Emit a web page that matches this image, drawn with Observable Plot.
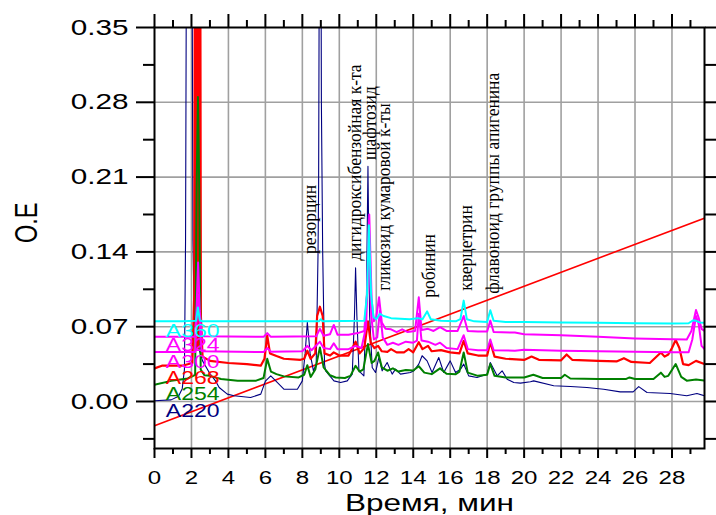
<!DOCTYPE html>
<html><head><meta charset="utf-8">
<script src="https://cdn.jsdelivr.net/npm/d3@7"></script>
<script src="https://cdn.jsdelivr.net/npm/@observablehq/plot@0.6"></script>
<style>body{margin:0;background:#fff}</style>
</head><body><div id="chart"></div>
<script>
// Chromatogram traces: [time (min), absorbance (O.E)]
const a360 = [[0,0.075],[1.5,0.075],[2.25,0.0755],[2.35,0.088],[2.45,0.076],[2.6,0.075],[6.0,0.075],[8.9,0.075],[9.0,0.077],[9.1,0.075],[11.35,0.0755],[11.5,0.1],[11.6,0.165],[11.72,0.1],[11.85,0.079],[12.0,0.077],[12.2,0.082],[12.4,0.08],[12.8,0.078],[13.3,0.0775],[13.8,0.077],[14.25,0.078],[14.5,0.077],[14.75,0.0843],[14.95,0.077],[15.5,0.0755],[16.3,0.075],[16.55,0.077],[16.73,0.0944],[16.9,0.077],[17.3,0.075],[18.0,0.0745],[18.17,0.0853],[18.35,0.0755],[19.0,0.0745],[20,0.0745],[22,0.074],[24,0.0737],[26,0.0733],[28,0.073],[28.9,0.0732],[29.15,0.076],[29.3,0.0755],[29.5,0.074],[29.76,0.0737]];
const a324 = [[0,0.0605],[2.2,0.0605],[2.28,0.09],[2.36,0.13],[2.45,0.085],[2.55,0.061],[5.9,0.0605],[6.1,0.064],[6.3,0.0605],[8.75,0.061],[8.95,0.068],[9.15,0.0615],[9.5,0.063],[9.7,0.0716],[9.9,0.0625],[10.5,0.0625],[11.0,0.064],[11.35,0.066],[11.5,0.1],[11.62,0.175],[11.75,0.095],[11.87,0.075],[12.0,0.079],[12.15,0.0975],[12.3,0.074],[12.5,0.068],[12.8,0.0675],[13.1,0.065],[13.4,0.0675],[13.7,0.065],[14.1,0.066],[14.3,0.0975],[14.45,0.067],[14.8,0.068],[15.1,0.066],[15.45,0.0695],[15.8,0.066],[16.4,0.066],[16.73,0.08],[16.95,0.066],[17.5,0.0655],[18.0,0.0655],[18.17,0.0757],[18.35,0.065],[19.5,0.0645],[20,0.063],[22,0.062],[24,0.0605],[26,0.059],[28,0.0582],[28.8,0.058],[29.05,0.066],[29.3,0.0856],[29.45,0.078],[29.6,0.068],[29.76,0.066]];
const a300 = [[0,0.0462],[2.2,0.0462],[2.28,0.075],[2.36,0.1],[2.45,0.07],[2.55,0.047],[5.9,0.0462],[6.1,0.05],[6.3,0.0465],[8.0,0.047],[8.27,0.052],[8.5,0.048],[8.95,0.056],[9.15,0.05],[9.5,0.049],[9.7,0.0545],[9.9,0.049],[10.5,0.049],[10.88,0.052],[11.2,0.05],[11.45,0.07],[11.6,0.15],[11.73,0.08],[11.87,0.058],[12.05,0.06],[12.2,0.085],[12.35,0.06],[12.6,0.053],[12.9,0.055],[13.2,0.053],[13.6,0.056],[14.0,0.055],[14.2,0.057],[14.3,0.082],[14.45,0.057],[14.8,0.056],[15.2,0.053],[15.45,0.055],[15.8,0.05],[16.4,0.049],[16.73,0.062],[16.95,0.049],[17.5,0.048],[18.0,0.048],[18.17,0.058],[18.35,0.048],[19.5,0.0475],[20,0.0485],[22,0.0475],[24,0.047],[26,0.0465],[28,0.046],[28.9,0.046],[29.1,0.058],[29.3,0.08],[29.45,0.072],[29.6,0.052],[29.76,0.049]];
const a268 = [[0,0.031],[0.4,0.0335],[1.5,0.0335],[2.05,0.036],[2.15,0.1],[2.19,0.5],[2.24,0.5],[2.27,0.05],[2.3,0.5],[2.36,0.5],[2.39,0.05],[2.42,0.5],[2.47,0.5],[2.51,0.08],[2.6,0.042],[3.0,0.038],[4.0,0.036],[5.0,0.035],[5.75,0.0335],[5.95,0.04],[6.1,0.0616],[6.25,0.045],[6.6,0.0425],[7.0,0.04],[7.9,0.039],[8.1,0.04],[8.27,0.0475],[8.45,0.04],[8.7,0.045],[8.8,0.08],[8.95,0.0887],[9.1,0.08],[9.2,0.045],[9.5,0.043],[9.7,0.046],[10.0,0.043],[10.5,0.043],[10.88,0.056],[11.1,0.045],[11.35,0.05],[11.55,0.075],[11.7,0.055],[11.9,0.05],[12.1,0.052],[12.3,0.047],[12.6,0.0465],[12.8,0.049],[13.1,0.046],[13.5,0.046],[13.75,0.049],[14.0,0.046],[14.3,0.0555],[14.5,0.049],[14.8,0.052],[15.0,0.047],[15.5,0.048],[16.0,0.046],[16.5,0.045],[16.73,0.0568],[16.95,0.045],[17.5,0.043],[18.0,0.043],[18.17,0.0555],[18.4,0.042],[19.0,0.04],[20.0,0.0389],[20.4,0.042],[20.8,0.039],[22.0,0.0385],[22.3,0.044],[22.6,0.039],[24.0,0.038],[25.0,0.0375],[25.4,0.0405],[25.8,0.037],[26.8,0.036],[27.4,0.0459],[27.6,0.042],[27.8,0.044],[28.0,0.05],[28.2,0.0575],[28.4,0.05],[28.6,0.035],[28.9,0.034],[29.3,0.038],[29.76,0.035]];
const a254 = [[0,0.0156],[0.9,0.0193],[1.8,0.0215],[2.2,0.025],[2.28,0.2],[2.35,0.285],[2.42,0.2],[2.5,0.03],[2.7,0.0245],[3.0,0.024],[3.6,0.021],[4.5,0.0195],[5.5,0.0195],[5.9,0.022],[6.1,0.0399],[6.3,0.028],[6.6,0.0256],[7.0,0.0235],[7.8,0.0225],[8.1,0.025],[8.27,0.034],[8.45,0.023],[8.7,0.03],[8.95,0.0506],[9.15,0.032],[9.5,0.0245],[9.8,0.0225],[10.3,0.022],[10.6,0.024],[10.88,0.0334],[11.1,0.028],[11.3,0.03],[11.55,0.0537],[11.75,0.036],[11.9,0.038],[12.1,0.0459],[12.3,0.032],[12.6,0.0288],[12.9,0.031],[13.2,0.028],[13.6,0.0295],[14.0,0.029],[14.3,0.033],[14.6,0.027],[15.0,0.0256],[15.45,0.031],[15.8,0.026],[16.3,0.0256],[16.5,0.028],[16.73,0.0459],[16.95,0.027],[17.5,0.024],[18.0,0.025],[18.17,0.0351],[18.4,0.024],[19.0,0.0225],[20.0,0.0225],[20.5,0.025],[21.0,0.022],[22.0,0.022],[22.2,0.025],[22.5,0.0215],[24.0,0.021],[25.5,0.021],[25.7,0.0225],[26.0,0.021],[27.0,0.021],[27.4,0.027],[27.6,0.023],[27.8,0.024],[28.2,0.0351],[28.5,0.023],[28.8,0.0195],[29.3,0.0205],[29.76,0.0195]];
const a220 = [[0,0.0007],[0.9,0.0015],[1.3,0.005],[1.5,0.012],[1.62,0.03],[1.68,0.15],[1.74,0.5],[2.02,0.5],[2.08,0.15],[2.15,0.08],[2.3,0.055],[2.6,0.038],[3.0,0.026],[3.3,0.0193],[3.5,0.0131],[3.94,0.0069],[4.3,0.0053],[5.2,0.0037],[5.75,0.0069],[6.0,0.019],[6.29,0.024],[6.56,0.0193],[7.0,0.0115],[7.73,0.0115],[8.0,0.0193],[8.15,0.045],[8.27,0.0741],[8.42,0.045],[8.6,0.0287],[8.75,0.035],[8.85,0.14],[8.88,0.2],[8.93,0.5],[9.0,0.5],[9.03,0.28],[9.1,0.14],[9.2,0.035],[9.26,0.0287],[9.71,0.0193],[10.07,0.0178],[10.43,0.0193],[10.7,0.0256],[10.82,0.08],[10.88,0.125],[10.95,0.08],[11.06,0.0287],[11.33,0.024],[11.47,0.1],[11.55,0.22],[11.64,0.08],[11.78,0.0318],[11.96,0.0271],[12.14,0.0412],[12.32,0.0287],[12.59,0.0365],[12.86,0.0256],[13.04,0.0303],[13.31,0.0256],[13.85,0.0271],[14.03,0.0287],[14.3,0.035],[14.48,0.0428],[14.75,0.038],[15.02,0.0271],[15.38,0.0412],[15.65,0.0271],[16.0,0.038],[16.29,0.0271],[16.56,0.0303],[16.73,0.035],[17.0,0.024],[17.45,0.0225],[18.0,0.0256],[18.17,0.0365],[18.54,0.024],[18.81,0.0287],[19.08,0.0209],[19.44,0.0178],[19.8,0.0172],[20.34,0.0185],[20.52,0.0193],[21.6,0.0147],[22.5,0.014],[23.4,0.0131],[24.3,0.0115],[25.2,0.009],[25.9,0.009],[26.2,0.0139],[26.65,0.0084],[27.9,0.0075],[28.8,0.0053],[29.35,0.0075],[29.76,0.0053]];
const gradient = [[0,-0.0227],[29.76,0.1716]];

// Legend labels
const seriesNames = ["A360","A324","A300","A268","A254","A220"];
const seriesColors = ["#00ffff","#ff00ff","#ff00ff","#ff0000","#008000","#000080"];
const legendY = [0.0605,0.0468,0.0312,0.0168,0.0013,-0.0143];
const legendX = 0.61;

// Peak annotations
const peakNames = ["резорцин","дигидроксибензойная к-та","шафтозид","гликозид кумаровой к-ты","робинин","кверцетрин","флавоноид группы апигенина"];
const peakTimes = [8.39,10.85,11.64,12.39,14.83,16.83,18.29];
const peakLabelY = [0.138,0.1316,0.226,0.1036,0.097,0.1036,0.1008];

// Ticks
const yTickLabels = [0,0.07,0.14,0.21,0.28,0.35];
const yMinorTicks = [-0.035,0.035,0.105,0.175,0.245,0.315];
const xTickLabels = d3.range(0,29,2);
const xMinorTicks = d3.range(1,30,2);

const legend = seriesNames.map((n,i)=>({name:n, color:seriesColors[i], y:legendY[i]}));
const peaks = peakNames.map((n,i)=>({name:n, t:peakTimes[i], y:peakLabelY[i]}));
const traces = [
  {data:a220, color:"#000080", w:1.1},
  {data:a268, color:"#ff0000", w:2.2},
  {data:a254, color:"#008000", w:2},
  {data:a300, color:"#ff00ff", w:2},
  {data:a324, color:"#ff00ff", w:2},
  {data:a360, color:"#00ffff", w:2}
];
const blank = () => "";
const font = "Liberation Sans, Arial, sans-serif";

const chart = Plot.plot({
  width: 716, height: 515,
  marginLeft: 154, marginRight: 12, marginTop: 27, marginBottom: 67,
  style: {background: "#fff", fontFamily: font, overflow: "visible"},
  x: {domain: [0, 29.76], label: null},
  y: {domain: [-0.044, 0.35], label: null},
  marks: [
    Plot.gridX({ticks: d3.range(2,29,2), stroke: "#a0a0a0", strokeOpacity: 1, strokeWidth: 1.6}),
    Plot.gridY({ticks: yTickLabels.slice(0,5), stroke: "#a0a0a0", strokeOpacity: 1, strokeWidth: 1.6}),
    Plot.line(gradient, {x: d=>d[0], y: d=>d[1], stroke: "#ff0000", strokeWidth: 1.6, clip: true}),
    ...traces.map(tr => Plot.line(tr.data, {x: d=>d[0], y: d=>d[1], stroke: tr.color, strokeWidth: tr.w, clip: true})),
    Plot.frame({stroke: "#000", strokeWidth: 2}),
    Plot.axisY({ticks: yTickLabels, tickSize: 18, tickPadding: 8, strokeWidth: 2, tickFormat: d3.format(".2f"), fontSize: 22, fontFamily: font, fill: "#000", label: null}),
    Plot.axisY({ticks: yMinorTicks, tickSize: 11, strokeWidth: 2, tickFormat: blank, label: null}),
    Plot.axisY({anchor: "right", ticks: yMinorTicks.concat(yTickLabels), tickSize: 11, strokeWidth: 2, tickFormat: blank, label: null}),
    Plot.axisX({ticks: xTickLabels, tickSize: 10, tickPadding: 12, strokeWidth: 2, fontSize: 18.5, fontFamily: font, fill: "#000", label: null}),
    Plot.axisX({ticks: xMinorTicks, tickSize: 6, strokeWidth: 2, tickFormat: blank, label: null}),
    Plot.axisX({anchor: "top", ticks: xTickLabels, tickSize: 14, strokeWidth: 2, tickFormat: blank, label: null}),
    Plot.axisX({anchor: "top", ticks: xMinorTicks, tickSize: 8, strokeWidth: 2, tickFormat: blank, label: null}),
    Plot.text(legend, {x: () => legendX, y: "y", text: "name", fill: "color", fontSize: 18, fontFamily: font, textAnchor: "start", lineAnchor: "bottom"}),
    Plot.text(peaks, {x: "t", y: "y", text: "name", rotate: -90, textAnchor: "start", lineAnchor: "middle", fontSize: 17.5, fontFamily: "Liberation Serif, Times New Roman, serif", fill: "#000"}),
    Plot.text(["Время, мин"], {frameAnchor: "bottom", text: d=>d, dy: 62, lineAnchor: "bottom", fontSize: 23, fontFamily: font, fill: "#000"}),
    Plot.text(["O.E"], {frameAnchor: "left", text: d=>d, dx: -127, dy: 5, rotate: -90, lineAnchor: "middle", fontSize: 23.5, fontFamily: font, fill: "#000"})
  ]
});

// Horizontal glyph stretch of the original raster rendering, keyed by font size
const stretchRules = [[22, 1.35, 1], [18.5, 1.3, 1], [23, 1.37, 1], [18, 1.28, 1], [23.5, 1, 1.3], [17.5, 1, 1.12]];
chart.querySelectorAll("g").forEach(g => {
  const fs = parseFloat(g.getAttribute("font-size"));
  const r = stretchRules.find(r => r[0] === fs);
  if (!r) return;
  g.querySelectorAll("text").forEach(t => {
    t.setAttribute("transform", (t.getAttribute("transform") || "") + ` scale(${r[1]},${r[2]})`);
  });
});
document.getElementById("chart").appendChild(chart);
</script>
</body></html>
